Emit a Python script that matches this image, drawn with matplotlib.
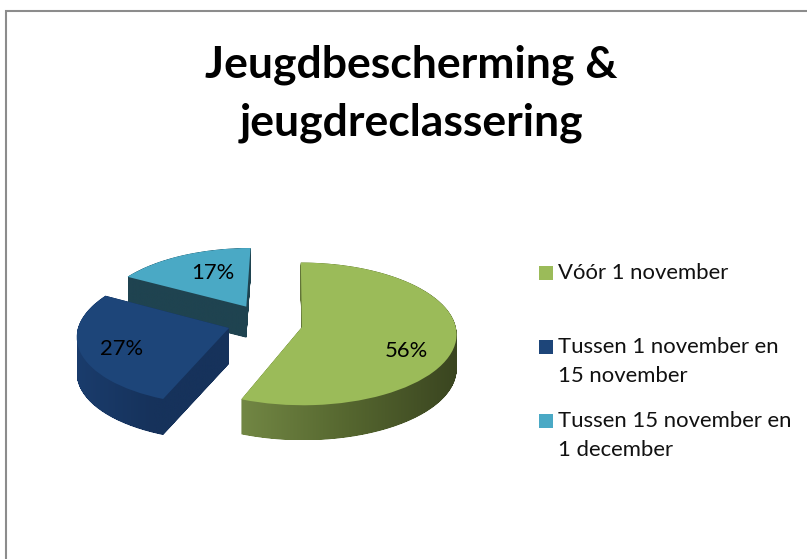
import numpy as np
import matplotlib
matplotlib.use("Agg")
import matplotlib.pyplot as plt
from matplotlib.colors import LinearSegmentedColormap
from matplotlib.patches import Rectangle
from matplotlib.path import Path
from matplotlib.transforms import Transform

title = "Jeugdbescherming &\njeugdreclassering"
labels = ["Vóór 1 november", "Tussen 1 november en\n15 november", "Tussen 15 november en\n1 december"]
values = [56, 27, 17]

top_colors = ["#9BBB59", "#1D4579", "#4AA9C5"]
side_colors = [["#728744", "#55662F", "#3A4520"], ["#1A3C6C", "#16325B", "#16325B"], ["#1F4350", "#1F4350", "#1F4350"]]

# pixel layout of the squashed pie, one entry per slice
centers = [(302, 327), (229, 328), (245, 306)]
radii = [154, 151, 149]
depths = [35, 36, 31]
label_pos = [(406, 351), (122, 349), (213, 273)]
legend_y = [273, 347, 421]
W, H = 807, 559
SQUASH = 155 / 72
VANISH_X, VANISH_Y, PERSP = 290, 328, 0.00135


def to_y(py):
    return (H - py) * SQUASH


class Perspective(Transform):
    # slices nearer the viewer (lower on the page) get drawn a bit bigger
    input_dims = output_dims = 2

    def transform_non_affine(self, xy):
        xy = np.asarray(xy, dtype=float)
        py = H - xy[:, 1] / SQUASH
        s = 1 + PERSP * (py - VANISH_Y)
        new_x = VANISH_X + (xy[:, 0] - VANISH_X) * s
        new_py = VANISH_Y + (py - VANISH_Y) * s
        return np.column_stack([new_x, to_y(new_py)])


fig = plt.figure(figsize=(W / 100, H / 100), dpi=100, facecolor="white")
plt.rcParams["font.family"] = ["Lato", "DejaVu Sans"]

ax = fig.add_axes([0, 0, 1, 1])
px = fig.add_axes([0, 0, 1, 1])
px.set_xlim(0, W)
px.set_ylim(H, 0)
px.axis("off")
px.patch.set_alpha(0)

persp = Perspective()
fractions = np.array(values) / sum(values)
starts = 90 - 360 * np.concatenate([[0], np.cumsum(fractions)[:-1]])

# back slices first so the nearer ones cover them
for i in [2, 1, 0]:
    cx, cy = centers[i]
    wedges, _ = ax.pie([fractions[i]], normalize=False, startangle=starts[i], counterclock=False,
                       center=(cx, to_y(cy)), radius=radii[i], colors=[top_colors[i]],
                       wedgeprops={"linewidth": 0})
    top = wedges[0]
    top.set_zorder(10 + 2 * (2 - i) + 1)
    top.set_transform(persp + ax.transData)

    # side wall: the top outline dragged straight down
    outline = persp.transform(top.get_path().to_polygons()[0])
    layers = [Path(outline - [0, d * SQUASH]) for d in np.arange(0, depths[i] + 0.5, 0.5)]
    sweep = Path.make_compound_path(*layers)

    cmap = LinearSegmentedColormap.from_list(f"side{i}", side_colors[i])
    x0, y0 = sweep.vertices.min(axis=0)
    x1, y1 = sweep.vertices.max(axis=0)
    im = ax.imshow(np.linspace(0, 1, 256)[None, :], cmap=cmap, extent=(x0, x1, y0, y1),
                   aspect="auto", zorder=10 + 2 * (2 - i))
    im.set_clip_path(sweep, transform=ax.transData)

ax.set_aspect("auto")
ax.set_xlim(0, W)
ax.set_ylim(0, to_y(0))
ax.axis("off")

for (x, y), v in zip(label_pos, values):
    px.text(x, y, f"{v}%", fontsize=15.8, ha="center", va="center", color="black")

px.text(411, 94, title, fontsize=32, fontweight="bold", ha="center", va="center",
        linespacing=1.52, color="black")

for y, lab, c in zip(legend_y, labels, top_colors):
    px.add_patch(Rectangle((539, y - 7), 14, 14, facecolor=c, edgecolor="none"))
    px.text(558, y - 10, lab, fontsize=15.9, ha="left", va="top", linespacing=1.58, color="#111111")

# chart frame, only left and top fall inside the picture
px.plot([5.5, 5.5, W], [H, 11, 11], color="#8C8C8C", linewidth=1.5, solid_joinstyle="miter")

fig.savefig("out.png", dpi=100)
